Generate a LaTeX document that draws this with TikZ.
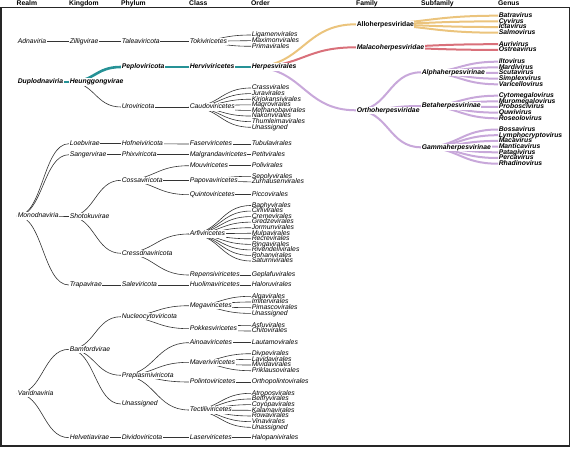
\documentclass[tikz,border=0pt]{standalone}
\usepackage{fontspec}
\setmainfont{Liberation Sans}
\usetikzlibrary{calc,backgrounds}

\definecolor{herpteal}{RGB}{38,146,150}
\definecolor{alloor}{RGB}{235,196,125}
\definecolor{malred}{RGB}{217,112,122}
\definecolor{ortholav}{RGB}{200,168,218}

\tikzset{
  lbl/.style={anchor=west, inner sep=0.6pt, text height=4.9pt, text depth=1.3pt,
    font=\fontsize{6.8}{7}\selectfont\itshape},
  hub/.style={lbl, fill=white},
  bolder/.style={font=\fontsize{6.8}{7}\selectfont\bfseries\itshape},
  hdr/.style={anchor=base west, inner sep=0pt, font=\fontsize{6.8}{7}\selectfont\bfseries},
  link/.style={draw=black!80, line width=0.6pt},
  diag/.style={to path={let \p1=(\tikztostart), \p2=(\tikztotarget), \n1={(\x2-\x1)/2}
    in .. controls +(\n1,0) and +(-\n1,0) .. (\tikztotarget)}},
}

\begin{document}
\begin{tikzpicture}[x=1pt,y=-1pt]
        \useasboundingbox (0,0) rectangle (574,450);
        \draw[line width=1.3pt, black!85] (1,7.5) rectangle (569.5,446);

        \node[hdr] (hrealm) at (16.5,5.5) {Realm};
        \node[hdr] (hking) at (69,5.5) {Kingdom};
        \node[hdr] (hphyl) at (121,5.5) {Phylum};
        \node[hdr] (hclass) at (189,5.5) {Class};
        \node[hdr] (horder) at (251,5.5) {Order};
        \node[hdr] (hfam) at (356,5.5) {Family};
        \node[hdr] (hsubf) at (421,5.5) {Subfamily};
        \node[hdr] (hgen) at (498,5.5) {Genus};

        % realms
        \node[hub] (adna) at (17,41.5) {Adnaviria};
        \node[hub,bolder] (duplo) at (17,82) {Duplodnaviria};
        \node[hub] (mono) at (17,216) {Monodnaviria};
        \node[hub] (varid) at (17,393.7) {Varidnaviria};

        % kingdoms
        \node[hub] (zilli) at (69,41.5) {Zilligvirae};
        \node[hub,bolder] (heung) at (69,82) {Heunggongvirae};
        \node[hub] (loeb) at (69,143.7) {Loebvirae};
        \node[hub] (sanger) at (69,154.7) {Sangervirae};
        \node[hub] (shoto) at (69,216.5) {Shotokuvirae};
        \node[hub] (trapa) at (69,285) {Trapavirae};
        \node[hub] (bamford) at (69,349.3) {Bamfordvirae};
        \node[hub] (helvet) at (69,437.7) {Helvetiavirae};

        % phyla
        \node[hub] (talea) at (121,41.5) {Taleaviricota};
        \node[hub,bolder] (peplo) at (121,67) {Peploviricota};
        \node[hub] (uro) at (121,107) {Uroviricota};
        \node[hub] (hofnei) at (121,143.7) {Hofneiviricota};
        \node[hub] (phix) at (121,154.7) {Phixviricota};
        \node[hub] (cossa) at (121,180.3) {Cossaviricota};
        \node[hub] (cressdna) at (121,253.3) {Cressdnaviricota};
        \node[hub] (sale) at (121,285) {Saleviricota};
        \node[hub] (nucleo) at (121,316.7) {Nucleocytoviricota};
        \node[hub] (preplas) at (121,375.3) {Preplasmiviricota};
        \node[hub] (unasph) at (121,404) {Unassigned};
        \node[hub] (divido) at (121,437.7) {Dividoviricota};

        % classes
        \node[hub] (toki) at (189,41.5) {Tokiviricetes};
        \node[hub,bolder] (hervi) at (189,67) {Herviviricetes};
        \node[hub] (caudo) at (189,107) {Caudoviricetes};
        \node[hub] (faser) at (189,144) {Faserviricetes};
        \node[hub] (malgrand) at (189,154.7) {Malgrandaviricetes};
        \node[hub] (mouvi) at (189,165.7) {Mouviricetes};
        \node[hub] (papova) at (189,180.3) {Papovaviricetes};
        \node[hub] (quinto) at (189,194.7) {Quintoviricetes};
        \node[hub] (arfi) at (189,234) {Arfiviricetes};
        \node[hub] (repensi) at (189,275) {Repensiviricetes};
        \node[hub] (huoli) at (189,285) {Huolimaviricetes};
        \node[hub] (mega) at (189,305.7) {Megaviricetes};
        \node[hub] (pokkes) at (189,328.7) {Pokkesviricetes};
        \node[hub] (ainoa) at (189,342.7) {Ainoaviricetes};
        \node[hub] (maveri) at (189,362.3) {Maveriviricetes};
        \node[hub] (polinto) at (189,382) {Polintoviricetes};
        \node[hub] (tectili) at (189,410) {Tectiliviricetes};
        \node[hub] (laser) at (189,437.7) {Laserviricetes};

        % orders
        \node[hub,bolder] (herpes) at (251,67) {Herpesvirales};
        \node[lbl] (tubula) at (251,144) {Tubulavirales};
        \node[lbl] (petit) at (251,154.7) {Petitvirales};
        \node[lbl] (polivi) at (251,165.7) {Polivirales};
        \node[lbl] (picco) at (251,194.7) {Piccovirales};
        \node[lbl] (gepla) at (251,275) {Geplafuvirales};
        \node[lbl] (haloru) at (251,285) {Haloruvirales};
        \node[lbl] (lautamo) at (251,342.7) {Lautamovirales};
        \node[lbl] (orthopol) at (251,382) {Orthopolintovirales};
        \node[lbl] (halopani) at (251,437.7) {Halopanivirales};
        \foreach \nm [count=\i] in {Ligamenvirales,Maximonvirales,Primavirales}
          \node[lbl] (toki\i) at (251,{29.35+5.65*\i}) {\nm};
        \foreach \nm [count=\i] in {Crassvirales,Juravirales,Kirjokansivirales,Magrovirales,
            Methanobavirales,Nakonvirales,Thumleimavirales,Unassigned}
          \node[lbl] (caudo\i) at (251,{82.39+5.61*\i}) {\nm};
        \foreach \nm [count=\i] in {Sepolyvirales,Zurhausenvirales}
          \node[lbl] (papova\i) at (251,{170.7+5.6*\i}) {\nm};
        \foreach \nm [count=\i] in {Baphyvirales,Cirlivirales,Cremevirales,Gredzevirales,
            Jormunvirales,Mulpavirales,Recrevirales,Ringavirales,Rivendellvirales,
            Rohanvirales,Saturnivirales}
          \node[lbl] (arfi\i) at (251,{199.95+5.55*\i}) {\nm};
        \foreach \nm [count=\i] in {Algavirales,Imitervirales,Pimascovirales,Unassigned}
          \node[lbl] (mega\i) at (251,{290.6+5.7*\i}) {\nm};
        \foreach \nm [count=\i] in {Asfuvirales,Chitovirales}
          \node[lbl] (pokkes\i) at (251,{319.6+5.7*\i}) {\nm};
        \foreach \nm [count=\i] in {Divpevirales,Lavidavirales,Mividavirales,Priklausovirales}
          \node[lbl] (maveri\i) at (251,{348.03+5.67*\i}) {\nm};
        \foreach \nm [count=\i] in {Atroposvirales,Belfryvirales,Coyopavirales,Kalamavirales,
            Rowavirales,Vinavirales,Unassigned}
          \node[lbl] (tectili\i) at (251,{387.63+5.67*\i}) {\nm};

        % herpes families, subfamilies, genera
        \node[hub,font=\fontsize{6.8}{7}\selectfont\bfseries] (allo) at (356,24.3) {Alloherpesviridae};
        \node[hub,bolder] (malaco) at (356,47.3) {Malacoherpesviridae};
        \node[hub,bolder] (ortho) at (356,110.3) {Orthoherpesviridae};
        \node[hub,bolder] (alpha) at (421,72.3) {Alphaherpesvirinae};
        \node[hub,bolder] (beta) at (421,106) {Betaherpesvirinae};
        \node[hub,bolder] (gamma) at (421,147.3) {Gammaherpesvirinae};
        \foreach \nm [count=\i] in {Batravirus,Cyvirus,Ictavirus,Salmovirus}
          \node[lbl,bolder] (allo\i) at (498,{10.03+5.67*\i}) {\nm};
        \foreach \nm [count=\i] in {Aurivirus,Ostreavirus}
          \node[lbl,bolder] (malaco\i) at (498,{38.5+5.7*\i}) {\nm};
        \foreach \nm [count=\i] in {Iltovirus,Mardivirus,Scutavirus,Simplexvirus,Varicellovirus}
          \node[lbl,bolder] (alpha\i) at (498,{56.05+5.65*\i}) {\nm};
        \foreach \nm [count=\i] in {Cytomegalovirus,Muromegalovirus,Proboscivirus,Quwivirus,Roseolovirus}
          \node[lbl,bolder] (beta\i) at (498,{90.05+5.65*\i}) {\nm};
        \foreach \nm [count=\i] in {Bossavirus,Lymphocryptovirus,Macavirus,Manticavirus,
            Patagivirus,Percavirus,Rhadinovirus}
          \node[lbl,bolder] (gamma\i) at (498,{123.8+5.7*\i}) {\nm};

        \begin{pgfonlayer}{background}
        % Adnaviria
        \draw[link] (adna.west) to[diag] (zilli.west);
        \draw[link] (zilli.west) to[diag] (talea.west);
        \draw[link] (talea.west) to[diag] (toki.west);
        \foreach \i in {1,...,3} \draw[link] (toki.west) to[diag] (toki\i.west);

        % Duplodnaviria
        \draw[link,draw=herpteal,line width=2.6pt] (duplo.west) to[diag] (heung.west);
        \draw[link,draw=herpteal,line width=2.6pt] (heung.west) to[diag] (peplo.west);
        \draw[link,draw=herpteal,line width=2.6pt] (peplo.west) to[diag] (hervi.west);
        \draw[link,draw=herpteal,line width=2.6pt] (hervi.west) to[diag] (herpes.west);
        \draw[link] (heung.west) to[diag] (uro.west);
        \draw[link] (uro.west) to[diag] (caudo.west);
        \foreach \i in {1,...,8} \draw[link] (caudo.west) to[diag] (caudo\i.west);

        \draw[link,draw=alloor,line width=2pt] (herpes.west) to[diag] (allo.west);
        \foreach \i in {1,...,4} \draw[link,draw=alloor,line width=2pt] (allo.west) to[diag] (allo\i.west);
        \draw[link,draw=malred,line width=2pt] (herpes.west) to[diag] (malaco.west);
        \foreach \i in {1,2} \draw[link,draw=malred,line width=2pt] (malaco.west) to[diag] (malaco\i.west);
        \draw[link,draw=ortholav,line width=2pt] (herpes.west) to[diag] (ortho.west);
        \foreach \sf in {alpha,beta,gamma}
          \draw[link,draw=ortholav,line width=2pt] (ortho.west) to[diag] (\sf.west);
        \foreach \i in {1,...,5} \draw[link,draw=ortholav,line width=2pt] (alpha.west) to[diag] (alpha\i.west);
        \foreach \i in {1,...,5} \draw[link,draw=ortholav,line width=2pt] (beta.west) to[diag] (beta\i.west);
        \foreach \i in {1,...,7} \draw[link,draw=ortholav,line width=2pt] (gamma.west) to[diag] (gamma\i.west);

        % Monodnaviria
        \foreach \kg in {loeb,sanger,shoto,trapa} \draw[link] (mono.west) to[diag] (\kg.west);
        \draw[link] (loeb.west) to[diag] (hofnei.west);
        \draw[link] (hofnei.west) to[diag] (faser.west);
        \draw[link] (faser.west) to[diag] (tubula.west);
        \draw[link] (sanger.west) to[diag] (phix.west);
        \draw[link] (phix.west) to[diag] (malgrand.west);
        \draw[link] (malgrand.west) to[diag] (petit.west);
        \draw[link] (shoto.west) to[diag] (cossa.west);
        \draw[link] (shoto.west) to[diag] (cressdna.west);
        \foreach \cl in {mouvi,papova,quinto} \draw[link] (cossa.west) to[diag] (\cl.west);
        \draw[link] (mouvi.west) to[diag] (polivi.west);
        \foreach \i in {1,2} \draw[link] (papova.west) to[diag] (papova\i.west);
        \draw[link] (quinto.west) to[diag] (picco.west);
        \draw[link] (cressdna.west) to[diag] (arfi.west);
        \draw[link] (cressdna.west) to[diag] (repensi.west);
        \foreach \i in {1,...,11} \draw[link] (arfi.west) to[diag] (arfi\i.west);
        \draw[link] (repensi.west) to[diag] (gepla.west);
        \draw[link] (trapa.west) to[diag] (sale.west);
        \draw[link] (sale.west) to[diag] (huoli.west);
        \draw[link] (huoli.west) to[diag] (haloru.west);

        % Varidnaviria
        \draw[link] (varid.west) to[diag] (bamford.west);
        \draw[link] (varid.west) to[diag] (helvet.west);
        \foreach \ph in {nucleo,preplas,unasph} \draw[link] (bamford.west) to[diag] (\ph.west);
        \draw[link] (nucleo.west) to[diag] (mega.west);
        \draw[link] (nucleo.west) to[diag] (pokkes.west);
        \foreach \i in {1,...,4} \draw[link] (mega.west) to[diag] (mega\i.west);
        \foreach \i in {1,2} \draw[link] (pokkes.west) to[diag] (pokkes\i.west);
        \foreach \cl in {ainoa,maveri,polinto,tectili} \draw[link] (preplas.west) to[diag] (\cl.west);
        \draw[link] (ainoa.west) to[diag] (lautamo.west);
        \foreach \i in {1,...,4} \draw[link] (maveri.west) to[diag] (maveri\i.west);
        \draw[link] (polinto.west) to[diag] (orthopol.west);
        \foreach \i in {1,...,7} \draw[link] (tectili.west) to[diag] (tectili\i.west);
        \draw[link] (helvet.west) to[diag] (divido.west);
        \draw[link] (divido.west) to[diag] (laser.west);
        \draw[link] (laser.west) to[diag] (halopani.west);
        \end{pgfonlayer}
    \end{tikzpicture}
\end{document}
